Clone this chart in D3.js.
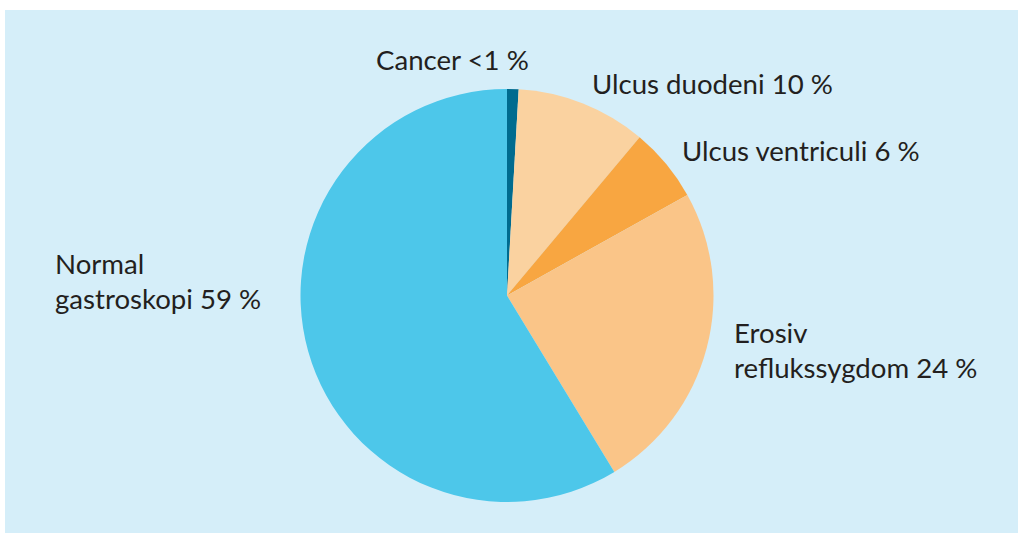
<!DOCTYPE html>
<html><head><meta charset="utf-8">
<script src="https://cdn.jsdelivr.net/npm/d3@7"></script>
<style>body{margin:0;background:#fff}svg{display:block}</style>
</head><body>
<svg id="c" width="1018" height="533"></svg>
<script>
const categories = ["Cancer", "Ulcus duodeni", "Ulcus ventriculi", "Erosiv refluxsygdom", "Normal gastroskopi"];
const values = [0.9, 10.2, 5.8, 24.4, 58.7];
const colors = ["#006b8f", "#fad2a0", "#f8a641", "#fac588", "#4dc7ea"];
const labelLines = [["Cancer <1 %"], ["Ulcus duodeni 10 %"], ["Ulcus ventriculi 6 %"], ["Erosiv", "reflukssygdom 24 %"], ["Normal", "gastroskopi 59 %"]];
const labelPos = [[376, 70], [592, 94], [682, 161], [734, 343], [55, 274]];

const svg = d3.select("#c");
svg.append("rect").attr("x", 5).attr("y", 10).attr("width", 1013).attr("height", 523).attr("fill", "#d5eef9");
const cx = 507, cy = 295.5, r = 206.5;
const pie = d3.pie().sort(null).value(d => d)(values);
const arc = d3.arc().innerRadius(0).outerRadius(r);
const g = svg.append("g").attr("transform", `translate(${cx},${cy})`);
g.selectAll("path").data(pie).join("path").attr("d", arc).attr("fill", (d, i) => colors[i]);

const lg = svg.append("g").attr("font-family", "Lato, sans-serif").attr("font-size", 27.6).attr("fill", "#231f20");
labelLines.forEach((lines, i) => {
  const t = lg.append("text").attr("x", labelPos[i][0]).attr("y", labelPos[i][1]);
  lines.forEach((s, j) => t.append("tspan").attr("x", labelPos[i][0]).attr("dy", j ? 35 : 0).text(s));
});
</script>
</body></html>
